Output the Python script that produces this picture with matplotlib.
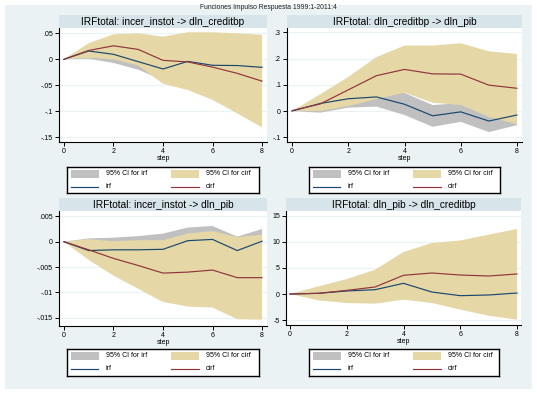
import matplotlib
matplotlib.use("Agg")
import matplotlib.pyplot as plt
from matplotlib.patches import Rectangle
from matplotlib.lines import Line2D
from matplotlib.ticker import FixedLocator, FixedFormatter

plt.rcParams['font.family'] = ['Liberation Sans', 'DejaVu Sans']

W, H = 537, 394
steps = [0, 1, 2, 3, 4, 5, 6, 7, 8]
x_ticks = [0, 2, 4, 6, 8]
x_ticklabels = ["0", "2", "4", "6", "8"]

main_title = "Funciones Impulso Respuesta 1999:1-2011:4"

# Panel 1: incer_instot -> dln_creditbp
p1_title = "IRFtotal: incer_instot -> dln_creditbp"
p1_irf = [0, 0.016, 0.0096, -0.0045, -0.0186, -0.004, -0.0115, -0.012, -0.0154]
p1_cirf = [0, 0.017, 0.026, 0.019, -0.002, -0.005, -0.015, -0.027, -0.042]
p1_irf_lo = [0, 0.001, -0.007, -0.020, -0.040, -0.035, -0.040, -0.040, -0.045]
p1_irf_hi = [0, 0.028, 0.028, 0.020, 0.005, 0.020, 0.015, 0.015, 0.015]
p1_cirf_lo = [0, 0.003, 0.000, -0.012, -0.047, -0.059, -0.078, -0.104, -0.131]
p1_cirf_hi = [0, 0.031, 0.048, 0.050, 0.0436, 0.052, 0.052, 0.050, 0.047]
p1_yticks = [0.05, 0, -0.05, -0.1, -0.15]
p1_yticklabels = [".05", "0", "-.05", "-.1", "-.15"]

# Panel 2: dln_creditbp -> dln_pib
p2_title = "IRFtotal: dln_creditbp -> dln_pib"
p2_irf = [0, 0.029, 0.047, 0.054, 0.026, -0.018, -0.003, -0.038, -0.015]
p2_cirf = [0.002, 0.027, 0.081, 0.135, 0.159, 0.142, 0.141, 0.099, 0.087]
p2_irf_lo = [0, -0.006, 0.013, 0.017, -0.015, -0.060, -0.041, -0.080, -0.054]
p2_irf_hi = [0, 0.050, 0.080, 0.070, 0.069, 0.023, 0.030, -0.005, 0.020]
p2_cirf_lo = [0, 0.000, 0.019, 0.046, 0.070, 0.032, 0.023, -0.022, -0.050]
p2_cirf_hi = [0, 0.064, 0.130, 0.206, 0.250, 0.250, 0.259, 0.228, 0.218]
p2_yticks = [0.3, 0.2, 0.1, 0, -0.1]
p2_yticklabels = [".3", ".2", ".1", "0", "-.1"]

# Panel 3: incer_instot -> dln_pib
p3_title = "IRFtotal: incer_instot -> dln_pib"
p3_irf = [0, -0.00175, -0.0016, -0.0016, -0.0015, 0.0002, 0.00045, -0.00175, 0.0001]
p3_cirf = [0, -0.0016, -0.0033, -0.0047, -0.0062, -0.0060, -0.0056, -0.0071, -0.0071]
p3_irf_lo = [0, -0.003, -0.004, -0.004, -0.004, -0.0025, -0.0022, -0.0045, -0.003]
p3_irf_hi = [0, 0.00065, 0.0008, 0.0011, 0.0016, 0.0028, 0.0031, 0.0010, 0.0025]
p3_cirf_lo = [0, -0.0036, -0.0067, -0.0093, -0.0119, -0.0128, -0.0130, -0.0153, -0.0154]
p3_cirf_hi = [0, 0.0005, 0.0001, 0.0003, 0.0003, 0.0016, 0.0021, 0.0009, 0.0014]
p3_yticks = [0.005, 0, -0.005, -0.01, -0.015]
p3_yticklabels = [".005", "0", "-.005", "-.01", "-.015"]

# Panel 4: dln_pib -> dln_creditbp
p4_title = "IRFtotal: dln_pib -> dln_creditbp"
p4_irf = [0, 0.13, 0.58, 0.83, 2.05, 0.38, -0.32, -0.19, 0.19]
p4_cirf = [0, 0.13, 0.70, 1.35, 3.60, 4.04, 3.65, 3.46, 3.85]
p4_irf_lo = [0, -0.8, -1.2, -1.3, -0.5, -1.2, -2.0, -2.5, -2.5]
p4_irf_hi = [0, 1.0, 2.0, 2.8, 4.5, 2.5, 1.5, 2.0, 2.5]
p4_cirf_lo = [0, -1.22, -1.73, -1.86, -1.09, -1.73, -3.0, -4.17, -4.94]
p4_cirf_hi = [0, 1.47, 2.88, 4.68, 8.08, 9.8, 10.3, 11.4, 12.5]
p4_yticks = [15, 10, 5, 0, -5]
p4_yticklabels = ["15", "10", "5", "0", "-5"]

leg_labels = ["95% CI for irf", "95% CI for cirf", "irf", "cirf"]

BG = "#eaf2f3"
STRIP = "#d7e4ea"
GRAY = "#c0c0c0"
SAND = "#e5d8a6"
NAVY = "#1a476f"
MAROON = "#90353b"

fig = plt.figure(figsize=(W / 100, H / 100), dpi=100)
fig.patch.set_facecolor("white")


def frac(x0, y0, x1, y1):
    return [x0 / W, 1 - y1 / H, (x1 - x0) / W, (y1 - y0) / H]


fig.add_artist(Rectangle((5 / W, 1 - 389 / H), 527 / W, 384 / H,
                         transform=fig.transFigure, facecolor=BG,
                         edgecolor="none", zorder=0))
fig.text(268.5 / W, 1 - 7.5 / H, main_title, ha="center", va="center",
         fontsize=4.9, color="#222222")

panels = [
    dict(box=(59, 28, 267, 142), xl=(-0.2, 8.2), yl=(-0.159, 0.0602),
         title=p1_title, irf=p1_irf, cirf=p1_cirf, ilo=p1_irf_lo, ihi=p1_irf_hi,
         clo=p1_cirf_lo, chi=p1_cirf_hi, yt=p1_yticks, ytl=p1_yticklabels,
         leg=(67, 167, 259, 193)),
    dict(box=(287, 28, 522, 142), xl=(-0.18, 8.18), yl=(-0.118, 0.317),
         title=p2_title, irf=p2_irf, cirf=p2_cirf, ilo=p2_irf_lo, ihi=p2_irf_hi,
         clo=p2_cirf_lo, chi=p2_cirf_hi, yt=p2_yticks, ytl=p2_yticklabels,
         leg=(309, 167, 500, 193)),
    dict(box=(59, 211, 267, 326), xl=(-0.2, 8.2), yl=(-0.01664, 0.00606),
         title=p3_title, irf=p3_irf, cirf=p3_cirf, ilo=p3_irf_lo, ihi=p3_irf_hi,
         clo=p3_cirf_lo, chi=p3_cirf_hi, yt=p3_yticks, ytl=p3_yticklabels,
         leg=(67, 349, 259, 376)),
    dict(box=(286, 211, 521, 325), xl=(-0.14, 8.14), yl=(-5.96, 15.96),
         title=p4_title, irf=p4_irf, cirf=p4_cirf, ilo=p4_irf_lo, ihi=p4_irf_hi,
         clo=p4_cirf_lo, chi=p4_cirf_hi, yt=p4_yticks, ytl=p4_yticklabels,
         leg=(309, 349, 499, 376)),
]

for p in panels:
    x0, y0, x1, y1 = p["box"]
    # title strip
    fig.add_artist(Rectangle((x0 / W, 1 - y0 / H), (x1 - x0) / W, 13 / H,
                             transform=fig.transFigure, facecolor=STRIP,
                             edgecolor="none", zorder=1))
    fig.text((x0 + x1) / 2 / W, 1 - (y0 - 6.3) / H, p["title"], ha="center",
             va="center", fontsize=7.3, color="black", zorder=2)
    ax = fig.add_axes(frac(x0, y0, x1, y1))
    ax.set_facecolor("white")
    ax.fill_between(steps, p["ilo"], p["ihi"], facecolor=GRAY, edgecolor="none",
                    linewidth=0, zorder=2)
    ax.fill_between(steps, p["clo"], p["chi"], facecolor=SAND, edgecolor="none",
                    linewidth=0, zorder=3)
    ax.plot(steps, p["irf"], color=NAVY, lw=0.85, zorder=4)
    ax.plot(steps, p["cirf"], color=MAROON, lw=0.85, zorder=4)
    ax.set_xlim(*p["xl"])
    ax.set_ylim(*p["yl"])
    ax.xaxis.set_major_locator(FixedLocator(x_ticks))
    ax.xaxis.set_major_formatter(FixedFormatter(x_ticklabels))
    ax.yaxis.set_major_locator(FixedLocator(p["yt"]))
    ax.yaxis.set_major_formatter(FixedFormatter(p["ytl"]))
    ax.grid(axis="y", color=BG, lw=0.9, zorder=1)
    ax.set_axisbelow(True)
    for s in ("top", "right"):
        ax.spines[s].set_visible(False)
    for s in ("left", "bottom"):
        ax.spines[s].set_color("black")
        ax.spines[s].set_linewidth(0.8)
    ax.tick_params(axis="both", length=3, width=0.7, labelsize=5, pad=1.5,
                   colors="black")
    ax.set_xlabel("step", fontsize=5, labelpad=0)

    # legend
    lx0, ly0, lx1, ly1 = p["leg"]
    lw_, lh_ = lx1 - lx0, ly1 - ly0
    lax = fig.add_axes(frac(lx0, ly0, lx1, ly1))
    lax.set_xlim(0, lw_)
    lax.set_ylim(lh_, 0)
    lax.set_xticks([])
    lax.set_yticks([])
    lax.set_facecolor("white")
    for s in lax.spines.values():
        s.set_color("black")
        s.set_linewidth(1.0)
    lax.add_patch(Rectangle((3.5, 2.5), 28.5, 8, facecolor=GRAY, edgecolor="none"))
    lax.add_patch(Rectangle((103.5, 2.5), 28.5, 8, facecolor=SAND, edgecolor="none"))
    lax.add_line(Line2D([4, 31], [20, 20], color=NAVY, lw=0.85))
    lax.add_line(Line2D([104, 132], [20, 20], color=MAROON, lw=0.85))
    lax.text(39, 6.5, leg_labels[0], fontsize=5, va="center", ha="left")
    lax.text(139, 6.5, leg_labels[1], fontsize=5, va="center", ha="left")
    lax.text(39, 20, leg_labels[2], fontsize=5, va="center", ha="left")
    lax.text(139, 20, leg_labels[3], fontsize=5, va="center", ha="left")

fig.savefig("out.png", dpi=100, facecolor="white")
